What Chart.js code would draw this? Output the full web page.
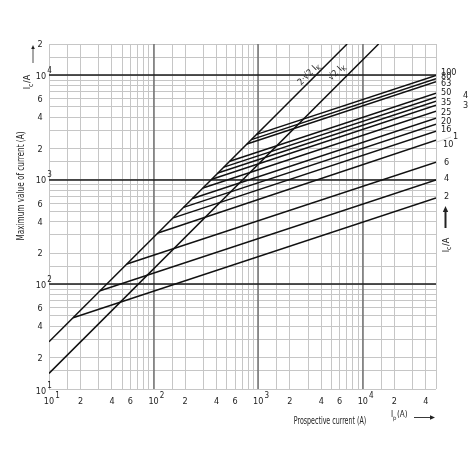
<!DOCTYPE html>
<html>
<head>
<meta charset="utf-8">
<script src="https://cdn.jsdelivr.net/npm/chart.js@4.4.1/dist/chart.umd.min.js"></script>
<style>
  html, body { margin: 0; padding: 0; background: #fff; }
  #wrap { width: 470px; height: 470px; position: relative; }
</style>
</head>
<body>
<div id="wrap"><canvas id="chart"></canvas></div>
<script>
// fuse ratings (A) and their cut-off lines
const ratings = ['2', '4', '6', '10', '13', '16', '20', '25', '32', '35', '40', '50', '63', '80', '100'];
const startIp = [17.0, 30.8, 55.5, 110, 154, 193, 235, 296, 360, 411, 469, 535, 780, 860, 966];
const startIc = [48, 87, 157, 311, 434, 547, 665, 837, 1018, 1164, 1327, 1513, 2207, 2433, 2733];
const endIp = 50000;
const endIc = [671, 1000, 1480, 2400, 2930, 3420, 3900, 4550, 5190, 5670, 6190, 6760, 8710, 9290, 10000];

// the two peak lines
const peak2Ip = [10, 7070];
const peak2Ic = [28.3, 20000];
const peak1Ip = [10, 14140];
const peak1Ic = [14.1, 20000];

// right hand labels (text shown in the picture)
const rightText = ['2', '4', '6', '10', '1', '16', '20', '25', '3', '35', '4', '50', '63', '80', '100'];

// tick labels
const xTickVals = [10, 20, 40, 60, 100, 200, 400, 600, 1000, 2000, 4000, 6000, 10000, 20000, 40000];
const xTickText = ['10', '2', '4', '6', '10', '2', '4', '6', '10', '2', '4', '6', '10', '2', '4'];
const xTickExp  = ['1', '', '', '', '2', '', '', '', '3', '', '', '', '4', '', ''];
const yTickVals = [20, 40, 60, 100, 200, 400, 600, 1000, 2000, 4000, 6000, 10000, 20000];
const yTickText = ['2', '4', '6', '10', '2', '4', '6', '10', '2', '4', '6', '10', '2'];
const yTickExp  = ['', '', '', '2', '', '', '', '3', '', '', '', '4', ''];

const gridSteps = [1, 1.5, 2, 3, 4, 5, 6, 7, 8, 9];
const decades = [100, 1000, 10000];

const FONT = '"Liberation Sans Narrow", "DejaVu Sans Condensed", "Roboto Condensed", sans-serif';

function gridValues(min, max) {
  const out = [];
  for (let d = 1; d <= 4; d++) {
    gridSteps.forEach(s => {
      const v = s * Math.pow(10, d);
      if (v >= min - 1e-6 && v <= max + 1e-6) out.push(v);
    });
  }
  return out;
}

// label nudges in px relative to line ends (layout only)
const rightNudge = [-1, -1, 0, 4, 5, 5, 3, 1, 0, 1, -2, -1, 2, -2, -3];
const rightX = [444, 444, 444, 443, 453, 441, 441, 441, 463, 441, 463, 441, 441, 441, 441];

const datasets = [];
ratings.forEach((r, i) => {
  datasets.push({
    label: r + ' A',
    data: [{ x: startIp[i], y: startIc[i] }, { x: endIp, y: endIc[i] }],
  });
});
datasets.push({ label: '2√2 Ik', data: peak2Ip.map((v, i) => ({ x: v, y: peak2Ic[i] })) });
datasets.push({ label: '√2 Ik', data: peak1Ip.map((v, i) => ({ x: v, y: peak1Ic[i] })) });
datasets.forEach(d => {
  d.showLine = true;
  d.pointRadius = 0;
  d.borderColor = '#111';
  d.borderWidth = 1.5;
  d.fill = false;
});

function drawExpLabel(ctx, txt, exp, cx, cy) {
  ctx.font = '9px ' + FONT;
  ctx.textAlign = 'center';
  ctx.textBaseline = 'middle';
  ctx.fillText(txt, cx, cy);
  if (exp) {
    const w = ctx.measureText(txt).width;
    ctx.font = '8px ' + FONT;
    ctx.textAlign = 'left';
    ctx.fillText(exp, cx + w / 2 + 1, cy - 6);
  }
}

function arrow(ctx, x1, y1, x2, y2, head, width) {
  ctx.save();
  ctx.strokeStyle = '#222';
  ctx.fillStyle = '#222';
  ctx.lineWidth = width;
  ctx.beginPath();
  ctx.moveTo(x1, y1);
  ctx.lineTo(x2, y2);
  ctx.stroke();
  const a = Math.atan2(y2 - y1, x2 - x1);
  ctx.beginPath();
  ctx.moveTo(x2 + Math.cos(a) * head, y2 + Math.sin(a) * head);
  ctx.lineTo(x2 + Math.cos(a + Math.PI / 2) * head * 0.45, y2 + Math.sin(a + Math.PI / 2) * head * 0.45);
  ctx.lineTo(x2 + Math.cos(a - Math.PI / 2) * head * 0.45, y2 + Math.sin(a - Math.PI / 2) * head * 0.45);
  ctx.closePath();
  ctx.fill();
  ctx.restore();
}

function subText(ctx, main, sub, rest, x, y, size) {
  ctx.font = size + 'px ' + FONT;
  ctx.textAlign = 'left';
  ctx.textBaseline = 'middle';
  ctx.fillText(main, x, y);
  let w = ctx.measureText(main).width;
  ctx.font = (size - 2) + 'px ' + FONT;
  ctx.fillText(sub, x + w, y + 3);
  w += ctx.measureText(sub).width;
  ctx.font = size + 'px ' + FONT;
  ctx.fillText(rest, x + w + 0.5, y);
}

function subWidth(ctx, main, sub, rest, size) {
  ctx.font = size + 'px ' + FONT;
  let w = ctx.measureText(main).width + ctx.measureText(rest).width + 0.5;
  ctx.font = (size - 2) + 'px ' + FONT;
  return w + ctx.measureText(sub).width;
}

// condensed title text: fixed height, squeezed horizontally
function title(ctx, txt, x, y, rot, squeeze) {
  ctx.save();
  ctx.translate(x, y);
  ctx.rotate(rot);
  ctx.scale(squeeze, 1);
  ctx.font = '10px ' + FONT;
  ctx.textAlign = 'center';
  ctx.textBaseline = 'middle';
  ctx.fillText(txt, 0, 0);
  ctx.restore();
}

// decade lines drawn over the minor grid so they stay solid
const decadePlugin = {
  id: 'decadePlugin',
  beforeDatasetsDraw(chart) {
    const { ctx, chartArea: a } = chart;
    const xs = chart.scales.x, ys = chart.scales.y;
    ctx.save();
    ctx.strokeStyle = '#6a6a6a';
    ctx.lineWidth = 1.4;
    decades.forEach(v => {
      const px = Math.round(xs.getPixelForValue(v));
      ctx.beginPath();
      ctx.moveTo(px, a.top);
      ctx.lineTo(px, a.bottom);
      ctx.stroke();
    });
    ctx.strokeStyle = '#1a1a1a';
    ctx.lineWidth = 1.6;
    decades.forEach(v => {
      const py = Math.round(ys.getPixelForValue(v));
      ctx.beginPath();
      ctx.moveTo(a.left, py);
      ctx.lineTo(a.right, py);
      ctx.stroke();
    });
    ctx.restore();
  }
};

const textPlugin = {
  id: 'textPlugin',
  afterDraw(chart) {
    const { ctx } = chart;
    const xs = chart.scales.x, ys = chart.scales.y;
    ctx.save();
    ctx.fillStyle = '#222';

    // y tick labels
    yTickVals.forEach((v, i) => {
      drawExpLabel(ctx, yTickText[i], yTickExp[i], yTickExp[i] ? 41 : 40, ys.getPixelForValue(v) + 1);
    });
    // bottom-left corner 10^1
    drawExpLabel(ctx, '10', '1', 41, ys.getPixelForValue(10) + 3);

    // x tick labels
    xTickVals.forEach((v, i) => {
      drawExpLabel(ctx, xTickText[i], xTickExp[i], xs.getPixelForValue(v), 402);
    });

    // axis titles
    title(ctx, 'Prospective current (A)', 330, 421, 0, 0.7);
    title(ctx, 'Maximum value of current (A)', 21.5, 186, -Math.PI / 2, 0.81);

    // Ic/A labels, rotated
    [[28, 82], [446.5, 245]].forEach(p => {
      ctx.save();
      ctx.translate(p[0], p[1]);
      ctx.rotate(-Math.PI / 2);
      const w = subWidth(ctx, 'I', 'c', '/A', 9);
      subText(ctx, 'I', 'c', '/A', -w / 2, 0, 9);
      ctx.restore();
    });

    // Ip(A) label
    subText(ctx, 'I', 'p', '(A)', 391, 415, 8);

    // arrows
    arrow(ctx, 33, 63, 33, 49, 4, 0.8);
    arrow(ctx, 414, 417.5, 430, 417.5, 5, 0.9);
    arrow(ctx, 445.5, 228, 445.5, 212, 6, 2);

    // right labels
    ctx.font = '9px ' + FONT;
    ctx.textAlign = 'left';
    ctx.textBaseline = 'middle';
    ratings.forEach((r, i) => {
      const py = ys.getPixelForValue(endIc[i]) + rightNudge[i];
      ctx.fillText(rightText[i], rightX[i], py);
    });
    // leader line for the cut label
    ctx.strokeStyle = '#bbb';
    ctx.lineWidth = 0.7;
    ctx.beginPath();
    ctx.moveTo(437, 142);
    ctx.lineTo(451, 137);
    ctx.stroke();

    // peak line labels
    ctx.fillStyle = '#222';
    ctx.save();
    ctx.translate(309, 74);
    ctx.rotate(-Math.PI / 4);
    let w = subWidth(ctx, '2·√2 I', 'K', '', 9);
    subText(ctx, '2·√2 I', 'K', '', -w / 2, 0, 9);
    ctx.restore();
    ctx.save();
    ctx.translate(337, 72);
    ctx.rotate(-Math.PI / 4);
    w = subWidth(ctx, '√2 I', 'K', '', 9);
    subText(ctx, '√2 I', 'K', '', -w / 2, 0, 9);
    ctx.restore();

    ctx.restore();
  }
};

new Chart(document.getElementById('chart'), {
  type: 'scatter',
  data: { datasets: datasets },
  options: {
    responsive: true,
    maintainAspectRatio: false,
    animation: false,
    layout: { padding: { left: 49, top: 44, right: 34, bottom: 81 } },
    plugins: { legend: { display: false }, tooltip: { enabled: false } },
    scales: {
      x: {
        type: 'logarithmic',
        min: 10,
        max: 50000,
        afterBuildTicks: (scale) => { scale.ticks = gridValues(10, 50000).map(v => ({ value: v })); },
        ticks: { display: false },
        border: { display: false },
        grid: { drawTicks: false, color: '#c6c6c6', lineWidth: 1 },
      },
      y: {
        type: 'logarithmic',
        min: 10,
        max: 20000,
        afterBuildTicks: (scale) => { scale.ticks = gridValues(10, 20000).map(v => ({ value: v })); },
        ticks: { display: false },
        border: { display: false },
        grid: { drawTicks: false, color: '#c6c6c6', lineWidth: 1 },
      },
    },
  },
  plugins: [decadePlugin, textPlugin],
});
</script>
</body>
</html>
